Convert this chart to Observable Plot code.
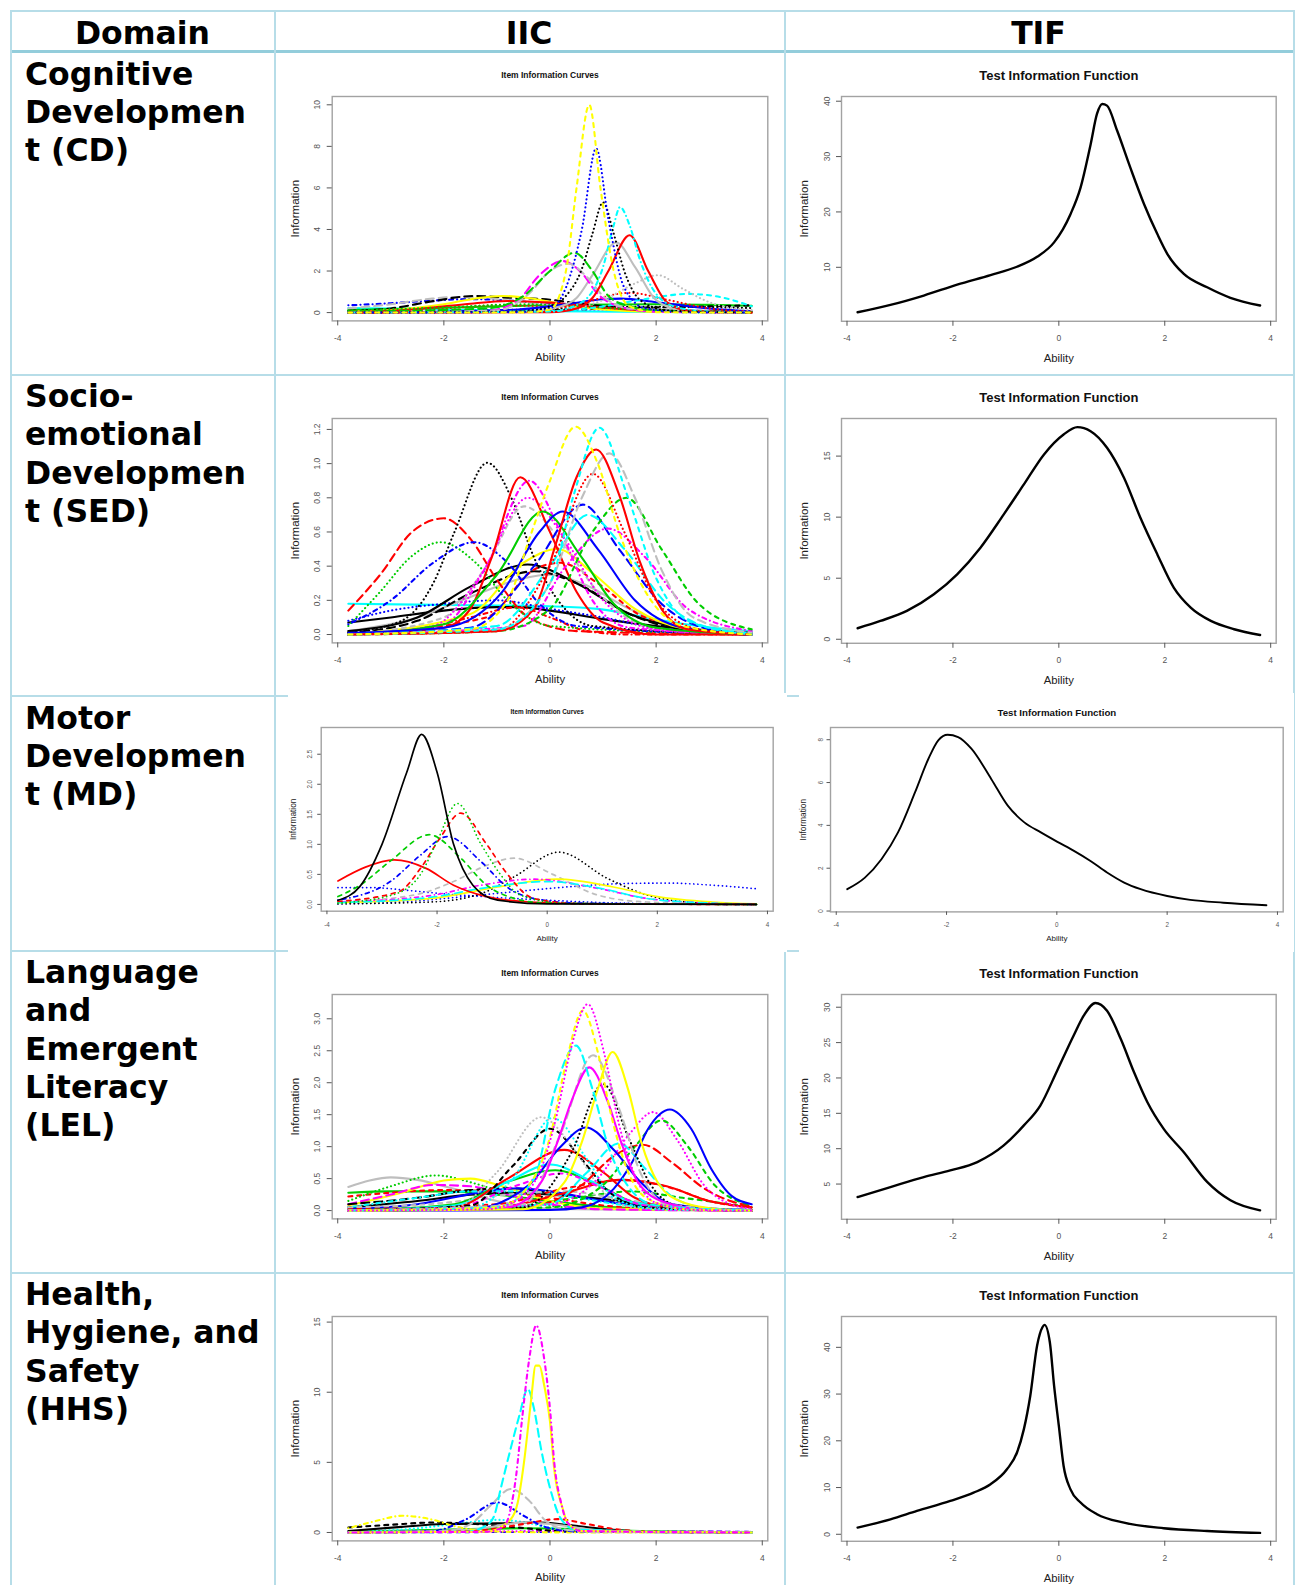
<!DOCTYPE html>
<html>
<head>
<meta charset="utf-8">
<script src="https://cdn.jsdelivr.net/npm/d3@7"></script>
<script src="https://cdn.jsdelivr.net/npm/@observablehq/plot@0.6"></script>
<style>
html, body { margin: 0; padding: 0; width: 1300px; height: 1585px; overflow: hidden; background: #fff; }
#page { position: relative; width: 1300px; height: 1585px; overflow: hidden; }
.ln { position: absolute; background: #b7dde8; }
.hdr { position: absolute; font-family: "DejaVu Sans", Verdana, sans-serif; font-weight: bold; font-size: 31.5px; line-height: 38.3px; text-align: center; color: #000; white-space: nowrap; }
.dom { position: absolute; font-family: "DejaVu Sans", Verdana, sans-serif; font-weight: bold; font-size: 31.5px; line-height: 38.3px; color: #000; white-space: nowrap; }
.cover { position: absolute; background: #fff; }
</style>
</head>
<body>
<div id="page"></div>
<script>
// ---------------- DATA ----------------
const columnHeaders = ["Domain", "IIC", "TIF"];
const domainLabels = [
  ["Cognitive", "Developmen", "t (CD)"],
  ["Socio-", "emotional", "Developmen", "t (SED)"],
  ["Motor", "Developmen", "t (MD)"],
  ["Language", "and", "Emergent", "Literacy", "(LEL)"],
  ["Health,", "Hygiene, and", "Safety", "(HHS)"]
];
const abilityTicks = [-4, -2, 0, 2, 4];
const iicTitle = "Item Information Curves";
const tifTitle = "Test Information Function";

// Cognitive Development (CD) item information curves: [ability, information]
const cdIicCurves = [
  [[-3.8,0.02],[-2,0.05],[0,0.1],[1.5,0.12],[3.8,0.05]],
  [[-3.8,0.22],[-3,0.2],[-2,0.15],[-1,0.1],[0,0.07],[2,0.03],[3.8,0.01]],
  [[-3.8,0.12],[-2.5,0.2],[-1,0.3],[0.5,0.38],[2,0.4],[3,0.37],[3.8,0.33]],
  [[-3.8,0.02],[-2,0.06],[0,0.18],[1.5,0.28],[2.8,0.27],[3.8,0.22]],
  [[-3.8,0],[-1,0.04],[0.5,0.15],[2,0.25],[3,0.3],[3.8,0.35]],
  [[-3.8,0.05],[-2,0.2],[-1,0.35],[0,0.3],[1,0.2],[2.5,0.08],[3.8,0.02]],
  [[-3.8,0.35],[-3,0.45],[-2.2,0.58],[-1.5,0.65],[-0.8,0.58],[0,0.42],[1,0.25],[2,0.12],[3.8,0.03]],
  [[-3.8,0.2],[-3,0.4],[-2.3,0.65],[-1.8,0.75],[-1.2,0.7],[-0.5,0.5],[0.3,0.3],[1.5,0.12],[3.8,0.02]],
  [[-3.8,0.08],[-3,0.2],[-2.2,0.55],[-1.43,0.8],[-0.8,0.72],[0,0.62],[0.5,0.45],[1.5,0.2],[3.8,0.04]],
  [[-3.8,0.04],[-3,0.12],[-2,0.4],[-1.4,0.68],[-0.9,0.8],[-0.4,0.7],[0.2,0.42],[1,0.15],[2,0.04],[3.8,0]],
  [[-3.8,0.03],[-2.6,0.15],[-1.6,0.4],[-0.8,0.56],[0,0.48],[0.8,0.28],[2,0.08],[3.8,0.01]],
  [[-3.8,0.1],[-2,0.25],[-0.5,0.4],[0.5,0.3],[2,0.1],[3.8,0.02]],
  [[-3.8,0.01],[-2,0.04],[-0.6,0.15],[0.3,0.4],[1.0,0.64],[1.34,0.67],[2,0.5],[3,0.2],[3.8,0.06]],
  [[-3.8,0],[-0.5,0.05],[0.5,0.4],[1.5,0.95],[2.2,0.62],[3,0.2],[3.8,0.05]],
  [[-3.8,0],[0,0.05],[1,0.3],[1.8,0.65],[2.6,0.9],[3.1,0.8],[3.8,0.3]],
  [[-3.8,0],[0,0.05],[1,0.6],[1.6,1.4],[2.03,1.8],[2.5,1.15],[3,0.5],[3.8,0.12]],
  [[-3.8,0],[-0.5,0.03],[0.2,0.3],[0.5,0.7],[0.8,1.8],[1.25,3.37],[1.6,2.2],[2.0,0.6],[2.5,0.1],[3.8,0]],
  [[-3.8,0.01],[-1.2,0.08],[-0.6,0.6],[-0.2,1.8],[0.24,2.48],[0.6,1.9],[0.9,0.9],[1.3,0.3],[2,0.04],[3.8,0]],
  [[-3.8,0],[-1,0.1],[-0.4,0.9],[0,2.0],[0.35,2.35],[0.7,1.7],[1.0,0.8],[1.5,0.2],[3.8,0]],
  [[-3.8,0.05],[-1.2,0.2],[-0.5,0.8],[0,2.0],[0.46,2.88],[0.8,2.0],[1.1,0.8],[1.5,0.3],[2,0.1],[3.8,0.02]],
  [[-3.8,0],[0,0.02],[0.5,0.2],[0.8,0.7],[1.1,2.0],[1.5,3.72],[1.85,2.0],[2.2,0.5],[2.6,0.1],[3.8,0]],
  [[-3.8,0],[0,0.05],[0.6,0.5],[1.0,2.2],[1.2,4.2],[1.32,5.08],[1.5,4.2],[1.7,2.5],[2.0,0.9],[2.4,0.25],[3,0.05],[3.8,0]],
  [[-3.8,0],[-0.5,0.05],[0,0.3],[0.3,0.8],[0.6,2.1],[0.8,3.8],[1.0,5.3],[1.2,3.8],[1.4,2.0],[1.7,0.6],[2.2,0.1],[3.8,0]],
  [[-3.8,0],[-0.5,0.02],[0,0.2],[0.3,1.2],[0.6,4.0],[0.87,7.9],[1.1,4.5],[1.4,1.2],[1.8,0.2],[2.5,0.02],[3.8,0]],
  [[-3.8,0],[-0.5,0.01],[0,0.15],[0.3,2.0],[0.5,6.0],[0.74,10],[0.95,6.0],[1.2,2.0],[1.5,0.3],[2,0.02],[3.8,0]]
];
const cdIicColors = ["magenta","cyan","green","black","black","red","blue","gray","black","yellow","red","green","blue","red","cyan","gray","gray","magenta","gray","green","red","cyan","black","blue","yellow"];
const cdIicTypes  = ["o","s","s","o","d","o","dd","l","l","s","s","o","s","o","d","o","s","l","l","l","s","dd","o","o","d"];
const cdIicYDomain = [-0.4, 10.4];
const cdIicYTicks = [0, 2, 4, 6, 8, 10];

const cdTif = [[-3.8,1.88],[-3.18,3.2],[-2.55,4.89],[-1.92,6.87],[-1.29,8.6],[-0.79,10.1],[-0.41,11.9],[-0.09,14.5],[0.22,19.6],[0.41,24.4],[0.6,32.2],[0.72,37.7],[0.82,39.5],[0.91,39.2],[1.1,34.7],[1.35,28.0],[1.61,21.4],[1.86,16.0],[2.05,12.4],[2.36,8.8],[2.8,6.4],[3.24,4.5],[3.8,3.1]];
const cdTifYDomain = [0.25, 40.85];
const cdTifYTicks = [10, 20, 30, 40];

// Socio-emotional Development (SED)
const sedIicCurves = [
  [[-3.8,0.18],[-2.5,0.175],[-1,0.17],[0,0.165],[0.9,0.15],[1.8,0.1],[2.8,0.05],[3.8,0.02]],
  [[-3.8,0.07],[-3,0.1],[-2,0.14],[-1,0.16],[-0.6,0.16],[0,0.14],[1,0.09],[2,0.05],[3,0.02],[3.8,0.01]],
  [[-3.8,0.08],[-3,0.14],[-2,0.18],[-1,0.2],[0,0.15],[1,0.1],[2,0.04],[3.8,0.01]],
  [[-3.8,0],[-2.5,0.03],[-1.5,0.1],[-0.6,0.16],[0,0.1],[0.7,0.02],[1.5,0],[3.8,0]],
  [[-3.8,0.02],[-2.5,0.1],[-1.5,0.22],[-0.5,0.33],[0,0.35],[0.6,0.3],[1.5,0.15],[2.5,0.04],[3.8,0.01]],
  [[-3.8,0.01],[-2.5,0.08],[-1.5,0.24],[-0.3,0.37],[0.5,0.3],[1.5,0.12],[2.5,0.03],[3.8,0.01]],
  [[-3.8,0.02],[-2.5,0.1],[-1.5,0.28],[-0.42,0.41],[0.5,0.3],[1.5,0.12],[2.5,0.04],[3.8,0.01]],
  [[-3.8,0],[-1.2,0.1],[-0.3,0.38],[0.2,0.42],[0.9,0.3],[1.8,0.1],[3.8,0]],
  [[-3.8,0],[-1.5,0.12],[-0.5,0.42],[0.14,0.5],[0.8,0.36],[1.6,0.15],[2.6,0.03],[3.8,0]],
  [[-3.8,0.14],[-3.2,0.35],[-2.6,0.6],[-2.0,0.68],[-1.5,0.56],[-1,0.32],[-0.4,0.1],[0.5,0.02],[3.8,0]],
  [[-3.8,0.05],[-3.2,0.25],[-2.6,0.46],[-2.06,0.54],[-1.4,0.42],[-0.8,0.2],[0,0.05],[3.8,0]],
  [[-3.8,0.06],[-3,0.2],[-2.2,0.42],[-1.43,0.54],[-0.8,0.42],[-0.2,0.18],[0.5,0.05],[3.8,0]],
  [[-3.8,0.01],[-2.8,0.08],[-2.2,0.3],[-1.8,0.6],[-1.18,1.005],[-0.7,0.78],[-0.3,0.45],[0.2,0.18],[0.8,0.05],[3.8,0]],
  [[-3.8,0],[-2,0.1],[-1.2,0.4],[-0.49,0.75],[0.2,0.55],[0.9,0.25],[2,0.03],[3.8,0]],
  [[-3.8,0],[-2.2,0.05],[-1.3,0.35],[-0.42,0.8],[0.3,0.55],[1,0.2],[2,0.03],[3.8,0]],
  [[-3.8,0],[-2,0.06],[-1.2,0.4],[-0.39,0.9],[0.2,0.6],[0.8,0.2],[1.5,0.04],[3.8,0]],
  [[-3.8,0],[-2,0.04],[-1.5,0.15],[-1.1,0.45],[-0.56,0.92],[0,0.6],[0.5,0.25],[1.0,0.07],[2,0],[3.8,0]],
  [[-3.8,0],[-2,0.06],[-1,0.35],[-0.14,0.72],[0.6,0.45],[1.2,0.18],[2,0.04],[3.8,0]],
  [[-3.8,0.01],[-2,0.04],[-0.9,0.25],[-0.2,0.6],[0.24,0.72],[0.9,0.5],[1.6,0.2],[2.5,0.04],[3.8,0]],
  [[-3.8,0],[-1.5,0.04],[-0.3,0.4],[0.62,0.76],[1.3,0.5],[2.1,0.18],[3,0.03],[3.8,0]],
  [[-3.8,0],[-1,0.05],[0,0.4],[0.71,0.7],[1.4,0.5],[2.2,0.18],[3,0.04],[3.8,0.01]],
  [[-3.8,0],[-0.5,0.05],[0.3,0.4],[1.09,0.62],[1.8,0.45],[2.6,0.15],[3.8,0.02]],
  [[-3.8,0],[-1,0.02],[0,0.15],[0.8,0.6],[1.44,0.8],[2.1,0.5],[2.8,0.18],[3.8,0.03]],
  [[-3.8,0],[-1,0.02],[0,0.4],[0.81,0.94],[1.4,0.6],[2,0.2],[2.8,0.03],[3.8,0]],
  [[-3.8,0],[-1,0.03],[0,0.3],[0.6,0.8],[1.12,1.06],[1.6,0.8],[2.1,0.38],[2.7,0.1],[3.8,0.01]],
  [[-3.8,0],[-1,0.02],[-0.3,0.15],[0.1,0.52],[0.5,0.92],[0.87,1.083],[1.3,0.82],[1.7,0.42],[2.1,0.15],[2.6,0.03],[3.8,0]],
  [[-3.8,0],[-1,0.03],[0,0.3],[0.45,0.82],[0.93,1.21],[1.45,0.82],[2.0,0.33],[2.6,0.08],[3.8,0]],
  [[-3.8,0],[-1.5,0.03],[-0.8,0.2],[-0.4,0.55],[0,0.9],[0.48,1.216],[0.9,1.0],[1.3,0.6],[1.8,0.25],[2.5,0.05],[3.8,0]]
];
const sedIicColors = ["cyan","black","blue","red","gray","black","black","red","yellow","red","green","blue","black","gray","magenta","magenta","red","green","blue","blue","cyan","magenta","green","red","gray","red","cyan","yellow"];
const sedIicTypes  = ["s","s","o","dd","s","l","s","d","s","l","o","dd","o","d","o","dd","s","s","s","l","l","dd","d","o","l","s","d","d"];
const sedIicYDomain = [-0.049, 1.264];
const sedIicYTicks = [0, 0.2, 0.4, 0.6, 0.8, 1.0, 1.2];

const sedTif = [[-3.8,0.9],[-3.37,1.5],[-2.87,2.32],[-2.36,3.68],[-1.92,5.32],[-1.48,7.5],[-1.04,10.23],[-0.66,12.68],[-0.28,15.14],[0.09,16.77],[0.35,17.37],[0.6,17.04],[0.91,15.68],[1.23,13.23],[1.54,9.95],[1.86,6.95],[2.17,4.23],[2.49,2.59],[2.87,1.5],[3.31,0.82],[3.8,0.35]];
const sedTifYDomain = [-0.33, 18.08];
const sedTifYTicks = [0, 5, 10, 15];

// Motor Development (MD)
const mdIicCurves = [
  [[-3.8,0.28],[-3.2,0.28],[-2.5,0.23],[-1.8,0.17],[-1,0.12],[0,0.07],[1,0.03],[2,0.01],[3.8,0]],
  [[-3.8,0.01],[-2.5,0.05],[-1.5,0.13],[-0.5,0.22],[0.5,0.3],[1.5,0.35],[2.2,0.355],[3,0.32],[3.8,0.26]],
  [[-3.8,0.04],[-2.4,0.16],[-1.7,0.38],[-1.1,0.65],[-0.6,0.77],[0.1,0.5],[0.9,0.16],[1.8,0.04],[3.8,0]],
  [[-3.8,0.01],[-2.1,0.04],[-1.2,0.18],[-0.6,0.46],[0.21,0.87],[1.1,0.43],[1.8,0.16],[2.7,0.03],[3.8,0]],
  [[-3.8,0.03],[-2.1,0.1],[-0.9,0.29],[0.18,0.42],[1.2,0.29],[2,0.13],[3,0.04],[3.8,0.01]],
  [[-3.8,0.04],[-2.1,0.15],[-1.2,0.32],[-0.24,0.42],[0.9,0.27],[1.8,0.1],[3,0.02],[3.8,0]],
  [[-3.8,0.03],[-2.1,0.12],[-1.1,0.28],[0,0.38],[0.9,0.28],[1.8,0.1],[3,0.02],[3.8,0]],
  [[-3.8,0.39],[-3.3,0.62],[-2.78,0.74],[-2.2,0.6],[-1.7,0.32],[-1.1,0.13],[-0.3,0.04],[1,0.01],[3.8,0]],
  [[-3.8,0.13],[-3.4,0.32],[-2.85,0.72],[-2.14,1.16],[-1.57,0.77],[-1.1,0.32],[-0.6,0.1],[0,0.02],[3.8,0]],
  [[-3.8,0.07],[-2.85,0.38],[-2.3,0.82],[-1.81,1.13],[-1.2,0.71],[-0.7,0.27],[-0.25,0.1],[0.6,0.02],[3.8,0]],
  [[-3.8,0.05],[-2.7,0.21],[-2.3,0.6],[-1.95,1.1],[-1.57,1.52],[-1.1,1.0],[-0.72,0.5],[-0.25,0.1],[0.6,0.01],[3.8,0]],
  [[-3.8,0.02],[-2.8,0.16],[-2.3,0.5],[-2.0,1.05],[-1.63,1.68],[-1.2,1.0],[-0.85,0.5],[-0.5,0.16],[0.3,0.02],[3.8,0]],
  [[-3.8,0.07],[-3.4,0.3],[-3.0,1.0],[-2.55,2.2],[-2.28,2.83],[-2.0,2.2],[-1.7,1.0],[-1.35,0.32],[-0.9,0.07],[0,0.01],[3.8,0]]
];
const mdIicColors = ["blue","blue","gray","black","yellow","magenta","cyan","red","green","blue","red","green","black"];
const mdIicTypes  = ["o","o","d","o","s","dd","l","s","d","dd","d","o","s"];
const mdIicYDomain = [-0.113, 2.945];
const mdIicYTicks = [0, 0.5, 1.0, 1.5, 2.0, 2.5];

const mdTif = [[-3.8,1.02],[-3.48,1.56],[-3.18,2.42],[-2.88,3.67],[-2.57,5.55],[-2.33,7.1],[-2.15,7.97],[-1.98,8.23],[-1.79,8.12],[-1.55,7.58],[-1.19,6.17],[-0.89,4.92],[-0.59,4.14],[-0.29,3.67],[0.01,3.23],[0.31,2.81],[0.61,2.34],[0.91,1.8],[1.22,1.33],[1.52,1.02],[2.0,0.7],[2.42,0.52],[3.02,0.39],[3.8,0.27]];
const mdTifYDomain = [-0.04, 8.57];
const mdTifYTicks = [0, 2, 4, 6, 8];

// Language and Emergent Literacy (LEL)
const lelIicCurves = [
  [[-3.8,0.37],[-3.4,0.47],[-3.0,0.52],[-2.5,0.48],[-1.9,0.36],[-1,0.15],[0,0.03],[3.8,0]],
  [[-3.8,0.28],[-3,0.3],[-2,0.3],[-1,0.25],[0,0.15],[1,0.06],[3.8,0]],
  [[-3.8,0.22],[-3,0.28],[-2,0.32],[-1,0.3],[0,0.2],[1,0.08],[2,0.02],[3.8,0]],
  [[-3.8,0.15],[-3,0.38],[-2.15,0.55],[-1.4,0.42],[-0.6,0.2],[0.3,0.05],[3.8,0]],
  [[-3.8,0.08],[-2.8,0.28],[-2,0.47],[-1.5,0.5],[-0.9,0.38],[0,0.15],[1,0.03],[3.8,0]],
  [[-3.8,0.1],[-3,0.25],[-2.2,0.4],[-1.5,0.38],[-0.8,0.25],[0,0.1],[1,0.02],[3.8,0]],
  [[-3.8,0.05],[-2.5,0.15],[-1.5,0.25],[-0.8,0.28],[0,0.25],[1,0.18],[2,0.08],[3,0.02],[3.8,0]],
  [[-3.8,0.1],[-2.5,0.2],[-1.5,0.32],[-0.8,0.35],[0,0.28],[1,0.15],[2,0.05],[3.8,0.01]],
  [[-3.8,0.02],[-2.5,0.1],[-1.2,0.3],[-0.6,0.35],[0,0.3],[1,0.15],[2,0.05],[3.8,0.01]],
  [[-3.8,0.05],[-2.5,0.2],[-1.5,0.3],[-0.5,0.3],[0.5,0.2],[1.5,0.08],[3.8,0.01]],
  [[-3.8,0],[-2,0.02],[-0.5,0.08],[0.5,0.2],[1.5,0.3],[2.5,0.2],[3.8,0.05]],
  [[-3.8,0.05],[-2,0.12],[-0.8,0.25],[0.3,0.3],[1.2,0.2],[2.2,0.08],[3.8,0.01]],
  [[-3.8,0.02],[-1,0.1],[0.3,0.35],[1.4,0.48],[2.3,0.35],[3,0.15],[3.8,0.05]],
  [[-3.8,0],[-1,0.05],[0.3,0.28],[1.3,0.48],[2.2,0.38],[3,0.15],[3.8,0.05]],
  [[-3.8,0],[-1.8,0.1],[-0.8,0.45],[0.1,0.63],[0.9,0.4],[1.7,0.1],[3.8,0]],
  [[-3.8,0],[-1.8,0.08],[-0.8,0.45],[0,0.72],[0.8,0.45],[1.6,0.12],[3.8,0]],
  [[-3.8,0],[-1.8,0.05],[-0.6,0.4],[0.2,0.58],[1,0.35],[1.8,0.08],[3.8,0]],
  [[-3.8,0],[-1.8,0.05],[-0.8,0.5],[0.27,0.95],[1,0.6],[1.6,0.2],[2.4,0.03],[3.8,0]],
  [[-3.8,0],[-1.5,0.08],[-0.7,0.7],[0,1.28],[0.6,0.8],[1.1,0.3],[1.8,0.05],[3.8,0]],
  [[-3.8,0],[-1.8,0.05],[-1,0.6],[-0.17,1.46],[0.5,0.9],[1,0.3],[1.6,0.05],[3.8,0]],
  [[-3.8,0],[-1.5,0.05],[-0.7,0.5],[0.05,1.45],[0.7,0.8],[1.2,0.2],[2,0.02],[3.8,0]],
  [[-3.8,0],[-0.5,0.05],[0.6,0.4],[1.2,0.85],[1.75,1.03],[2.3,0.75],[2.9,0.35],[3.4,0.15],[3.8,0.07]],
  [[-3.8,0],[0,0.1],[0.7,0.6],[1.3,1.05],[1.8,0.65],[2.3,0.22],[3,0.03],[3.8,0]],
  [[-3.8,0],[0,0.1],[0.9,0.5],[1.5,1.2],[1.94,1.54],[2.4,1.1],[2.9,0.4],[3.4,0.1],[3.8,0.03]],
  [[-3.8,0],[0,0.05],[1.0,0.4],[1.6,1.0],[2.1,1.41],[2.6,1.0],[3.1,0.4],[3.8,0.08]],
  [[-3.8,0],[0,0.01],[0.6,0.05],[1.2,0.34],[1.55,0.76],[1.85,1.28],[2.26,1.58],[2.66,1.28],[3.04,0.65],[3.42,0.23],[3.8,0.1]],
  [[-3.8,0],[-1.5,0.02],[-0.4,0.4],[0.2,1.0],[0.68,1.3],[1.2,0.95],[1.7,0.45],[2.3,0.1],[3.8,0]],
  [[-3.8,0],[-0.5,0.05],[0.4,0.9],[1.0,1.98],[1.5,1.1],[1.9,0.4],[2.4,0.08],[3.8,0]],
  [[-3.8,0],[-0.5,0.1],[0.2,1.2],[0.81,2.43],[1.3,1.6],[1.7,0.6],[2.2,0.1],[3.8,0]],
  [[-3.8,0],[-0.8,0.05],[-0.17,0.44],[0.14,1.07],[0.4,1.7],[0.74,2.24],[1.09,1.7],[1.34,1.07],[1.66,0.44],[2.16,0.13],[3,0.01],[3.8,0]],
  [[-3.8,0],[-0.5,0.02],[0.27,0.44],[0.6,1.07],[0.9,1.9],[1.18,2.48],[1.47,1.9],[1.72,1.07],[2.03,0.44],[2.5,0.13],[3.2,0.02],[3.8,0]],
  [[-3.8,0],[-1,0.05],[-0.3,0.5],[0.1,1.9],[0.49,2.58],[0.8,1.9],[1.1,1.0],[1.5,0.35],[2,0.08],[3.8,0]],
  [[-3.8,0],[-1,0.05],[-0.36,0.44],[0,1.15],[0.3,2.3],[0.62,3.13],[0.9,2.48],[1.15,1.5],[1.45,0.65],[1.85,0.18],[2.6,0.02],[3.8,0]],
  [[-3.8,0],[-1.2,0.02],[-0.7,0.13],[-0.17,0.65],[0.1,1.4],[0.4,2.55],[0.71,3.23],[1.03,2.43],[1.3,1.35],[1.6,0.55],[2.0,0.12],[2.8,0.01],[3.8,0]]
];
const lelIicColors = ["gray","green","red","green","yellow","magenta","black","black","blue","cyan","green","gray","red","red","green","cyan","magenta","red","black","gray","cyan","red","cyan","magenta","green","blue","blue","black","gray","magenta","yellow","cyan","yellow","magenta"];
const lelIicTypes  = ["s","s","d","o","s","l","s","l","s","dd","d","d","d","s","s","s","d","s","d","o","o","l","l","o","d","s","s","o","l","s","s","l","d","o"];
const lelIicYDomain = [-0.13, 3.38];
const lelIicYTicks = [0, 0.5, 1.0, 1.5, 2.0, 2.5, 3.0];

const lelTif = [[-3.8,3.16],[-3.18,4.58],[-2.55,5.99],[-2.05,6.93],[-1.54,8.11],[-1.04,10.46],[-0.66,13.29],[-0.35,16.1],[-0.03,21.06],[0.28,26.0],[0.47,28.8],[0.69,30.6],[0.91,29.5],[1.17,25.5],[1.42,20.8],[1.67,16.6],[1.98,12.8],[2.36,9.5],[2.8,5.3],[3.24,2.7],[3.8,1.28]];
const lelTifYDomain = [0.02, 31.8];
const lelTifYTicks = [5, 10, 15, 20, 25, 30];

// Health, Hygiene, and Safety (HHS)
const hhsIicCurves = [
  [[-3.8,0],[-2,0.02],[0,0.05],[1,0.08],[2,0.07],[3,0.06],[3.8,0.05]],
  [[-3.8,0.02],[-2,0.05],[0,0.1],[1.5,0.1],[3.8,0.04]],
  [[-3.8,0.05],[-2.5,0.15],[-1.5,0.25],[-0.5,0.3],[0.5,0.25],[1.5,0.12],[3.8,0.02]],
  [[-3.8,0.05],[-2.5,0.3],[-1.6,0.7],[-1,0.9],[-0.6,0.8],[0,0.35],[1,0.05],[3.8,0]],
  [[-3.8,0.1],[-2.8,0.4],[-2,0.6],[-1,0.65],[-0.2,0.7],[0.3,0.55],[1,0.25],[2,0.05],[3.8,0]],
  [[-3.8,0.36],[-3,0.55],[-2.2,0.71],[-1.4,0.6],[-0.6,0.35],[0.2,0.1],[3.8,0]],
  [[-3.8,0],[-1.5,0.2],[-0.5,0.7],[0,0.6],[0.8,0.2],[2,0.02],[3.8,0]],
  [[-3.8,0.3],[-3.3,0.8],[-2.78,1.19],[-2.2,0.9],[-1.8,0.45],[-1.2,0.1],[0,0.01],[3.8,0]],
  [[-3.8,0],[-1.5,0.1],[-0.5,0.6],[0.14,0.95],[0.7,0.6],[1.2,0.25],[2,0.05],[3.8,0]],
  [[-3.8,0],[-2.2,0.1],[-1.6,0.9],[-0.99,2.14],[-0.5,1.2],[-0.1,0.4],[0.5,0.08],[3.8,0]],
  [[-3.8,0],[-2,0.1],[-1.5,0.6],[-1.1,2.0],[-0.74,3.1],[-0.4,2.3],[-0.1,0.9],[0.3,0.2],[1,0.02],[3.8,0]],
  [[-3.8,0],[-1.6,0.05],[-1.2,0.5],[-1.05,1.2],[-0.93,3.1],[-0.74,6.0],[-0.58,8.3],[-0.42,10.24],[-0.3,8.8],[-0.17,6.0],[0.02,2.9],[0.21,0.95],[0.5,0.2],[3.8,0]],
  [[-3.8,0],[-1.2,0.05],[-0.74,0.95],[-0.61,2.1],[-0.49,5.0],[-0.36,9.3],[-0.27,11.9],[-0.2,11.9],[-0.11,10.5],[0,7.9],[0.08,4.5],[0.24,1.7],[0.33,0.7],[0.6,0.1],[3.8,0]],
  [[-3.8,0],[-1.2,0.05],[-0.86,0.48],[-0.74,1.7],[-0.64,4.0],[-0.52,8.3],[-0.39,12.4],[-0.26,14.76],[-0.11,12.4],[0,8.8],[0.08,5.0],[0.21,2.1],[0.33,0.7],[0.6,0.1],[3.8,0]]
];
const hhsIicColors = ["blue","magenta","green","cyan","black","black","gray","yellow","red","blue","gray","cyan","yellow","magenta"];
const hhsIicTypes  = ["d","o","s","o","s","d","s","dd","d","dd","l","l","s","dd"];
const hhsIicYDomain = [-0.6, 15.4];
const hhsIicYTicks = [0, 5, 10, 15];

const hhsTif = [[-3.8,1.43],[-3.18,3.2],[-2.68,5.0],[-2.05,7.14],[-1.61,8.9],[-1.29,10.7],[-0.98,13.9],[-0.79,17.5],[-0.66,22.5],[-0.54,29.6],[-0.41,40.4],[-0.31,44.3],[-0.27,44.8],[-0.17,41.1],[-0.09,31.8],[0,23.2],[0.09,14.6],[0.22,9.6],[0.41,6.8],[0.72,4.3],[1.23,2.5],[1.98,1.3],[2.8,0.7],[3.8,0.3]];
const hhsTifYDomain = [-1.5, 46.6];
const hhsTifYTicks = [0, 10, 20, 30, 40];

// ---------------- STYLE / LAYOUT ----------------
const palette = {black:"#000000", red:"#FF0000", green:"#00CD00", blue:"#0000FF", cyan:"#00FFFF", magenta:"#FF00FF", yellow:"#FFFF00", gray:"#BEBEBE"};
const dashes = {s: null, d: "4,5", o: "0.1,4", dd: "0.1,4,4,4", l: "8,5", t: "2,4,6,4"};
const xDomain = [-4.104, 4.104];
const plotFont = "'Liberation Sans', Arial, Helvetica, sans-serif";

const page = document.getElementById("page");

// table rules
function rule(x, y, w, h, color) {
  const d = document.createElement("div");
  d.className = "ln";
  d.style.left = x + "px"; d.style.top = y + "px";
  d.style.width = w + "px"; d.style.height = h + "px";
  if (color) d.style.background = color;
  page.appendChild(d);
}
const colX = [10, 274, 784, 1293];
const rowY = [51, 373.5, 695, 949.5, 1271.5];
rule(10, 9.5, 1285, 2);
rule(10, 49.5, 1285, 3.2, "#93cddb");
for (let i = 1; i < rowY.length; i++) rule(10, rowY[i], 1285, 2);
colX.forEach(x => rule(x, 9.5, 2, 1585));

// header
const hdrSpans = [[11, 274], [274, 784], [784, 1293]];
columnHeaders.forEach((t, i) => {
  const d = document.createElement("div");
  d.className = "hdr";
  d.style.left = hdrSpans[i][0] + "px";
  d.style.width = (hdrSpans[i][1] - hdrSpans[i][0]) + "px";
  d.style.top = "14px";
  d.textContent = t;
  page.appendChild(d);
});

// domain cells
domainLabels.forEach((lines, i) => {
  const d = document.createElement("div");
  d.className = "dom";
  d.style.left = "25px";
  d.style.top = (rowY[i] + 3.5) + "px";
  d.innerHTML = lines.map(s => s.replace(/&/g, "&amp;")).join("<br>");
  page.appendChild(d);
});

// white covers where the motor row images hide the grid
[[288, 693, 499, 259], [799, 693, 495, 259]].forEach(([x, y, w, h]) => {
  const d = document.createElement("div");
  d.className = "cover";
  d.style.left = x + "px"; d.style.top = y + "px";
  d.style.width = w + "px"; d.style.height = h + "px";
  page.appendChild(d);
});

function makePanel(opt) {
  const g = opt.geom;
  const marks = [Plot.frame({stroke: "#a2a2a2", strokeWidth: 1.4})];
  opt.series.forEach((pts, i) => {
    marks.push(Plot.line(pts, {
      x: d => d[0], y: d => d[1],
      stroke: palette[opt.colors[i]],
      strokeWidth: opt.lw,
      strokeDasharray: dashes[opt.types[i]] || undefined,
      strokeLinecap: "round", strokeLinejoin: "round",
      curve: "monotone-x"
    }));
  });
  marks.push(
    Plot.axisX({ticks: abilityTicks, tickFormat: d => String(d), tickSize: g.tickSize, tickPadding: g.xPad, fontSize: g.tickFont, label: null, color: "#555"}),
    Plot.axisY({ticks: opt.yTicks, tickFormat: d => d.toFixed(opt.dec), tickSize: g.tickSize, tickPadding: g.yPad, tickRotate: -90, fontSize: g.tickFont, label: null, color: "#555"}),
    Plot.text([opt.title], {frameAnchor: "top", lineAnchor: "middle", textAnchor: "middle", dy: g.titleDy, fontWeight: "bold", fontSize: g.titleSize, fill: "#111", fontFamily: plotFont}),
    Plot.text(["Information"], {frameAnchor: "left", lineAnchor: "middle", textAnchor: "middle", dx: g.infoDx, rotate: -90, fontSize: g.infoSize, fill: "#222", fontFamily: plotFont}),
    Plot.text(["Ability"], {frameAnchor: "bottom", lineAnchor: "middle", textAnchor: "middle", dy: g.abDy, fontSize: g.abSize, fill: "#222", fontFamily: plotFont})
  );
  const svg = Plot.plot({
    width: g.w, height: g.h,
    marginLeft: g.ml, marginRight: g.mr, marginTop: g.mt, marginBottom: g.mb,
    x: {domain: xDomain},
    y: {domain: opt.yDomain},
    style: {background: "transparent", overflow: "visible", fontFamily: plotFont, color: "#555"},
    marks
  });
  svg.style.position = "absolute";
  svg.style.left = g.left + "px";
  svg.style.top = g.top + "px";
  page.appendChild(svg);
}

const normalText = {titleDy: -21, infoSize: 11.5, abDy: 36.7, abSize: 11.3, tickSize: 5, tickFont: 8.5, xPad: 8.7, yPad: 7};
function iicGeom(boxTop) { return Object.assign({left: 277, top: boxTop - 40, w: 500, h: 40 + 224.4 + 50, ml: 54.7, mr: 9.7, mt: 40, mb: 50, titleSize: 8.5, infoDx: -36.7}, normalText); }
function tifGeom(boxTop) { return Object.assign({left: 785, top: boxTop - 40, w: 500.7, h: 40 + 224.8 + 50, ml: 56, mr: 10, mt: 40, mb: 50, titleSize: 13, infoDx: -37}, normalText); }
const mdIicGeom = {left: 285, top: 697.3, w: 497.7, h: 30 + 183.7 + 40, ml: 35.7, mr: 10, mt: 30, mb: 40, titleDy: -15.6, titleSize: 6.4, infoDx: -27.4, infoSize: 8.3, abDy: 27.3, abSize: 8, tickSize: 3.5, tickFont: 6.3, xPad: 7.5, yPad: 5.6};
const mdTifGeom = {left: 790, top: 697.3, w: 502.7, h: 30 + 184.4 + 40, ml: 40, mr: 10, mt: 30, mb: 40, titleDy: -15, titleSize: 9.7, infoDx: -27.3, infoSize: 8.3, abDy: 26.8, abSize: 8, tickSize: 3.5, tickFont: 6.3, xPad: 7.5, yPad: 4.2};

const one = arr => [arr];
// CD
makePanel({series: cdIicCurves, colors: cdIicColors, types: cdIicTypes, yDomain: cdIicYDomain, yTicks: cdIicYTicks, dec: 0, title: iicTitle, lw: 2.1, geom: iicGeom(95.7)});
makePanel({series: one(cdTif), colors: ["black"], types: ["s"], yDomain: cdTifYDomain, yTicks: cdTifYTicks, dec: 0, title: tifTitle, lw: 2.4, geom: tifGeom(95.7)});
// SED
makePanel({series: sedIicCurves, colors: sedIicColors, types: sedIicTypes, yDomain: sedIicYDomain, yTicks: sedIicYTicks, dec: 1, title: iicTitle, lw: 2.1, geom: iicGeom(417.7)});
makePanel({series: one(sedTif), colors: ["black"], types: ["s"], yDomain: sedTifYDomain, yTicks: sedTifYTicks, dec: 0, title: tifTitle, lw: 2.4, geom: tifGeom(417.7)});
// MD
makePanel({series: mdIicCurves, colors: mdIicColors, types: mdIicTypes, yDomain: mdIicYDomain, yTicks: mdIicYTicks, dec: 1, title: iicTitle, lw: 1.7, geom: mdIicGeom});
makePanel({series: one(mdTif), colors: ["black"], types: ["s"], yDomain: mdTifYDomain, yTicks: mdTifYTicks, dec: 0, title: tifTitle, lw: 1.9, geom: mdTifGeom});
// LEL
makePanel({series: lelIicCurves, colors: lelIicColors, types: lelIicTypes, yDomain: lelIicYDomain, yTicks: lelIicYTicks, dec: 1, title: iicTitle, lw: 2.1, geom: iicGeom(994)});
makePanel({series: one(lelTif), colors: ["black"], types: ["s"], yDomain: lelTifYDomain, yTicks: lelTifYTicks, dec: 0, title: tifTitle, lw: 2.4, geom: tifGeom(994)});
// HHS
makePanel({series: hhsIicCurves, colors: hhsIicColors, types: hhsIicTypes, yDomain: hhsIicYDomain, yTicks: hhsIicYTicks, dec: 0, title: iicTitle, lw: 2.1, geom: iicGeom(1315.7)});
makePanel({series: one(hhsTif), colors: ["black"], types: ["s"], yDomain: hhsTifYDomain, yTicks: hhsTifYTicks, dec: 0, title: tifTitle, lw: 2.4, geom: tifGeom(1315.7)});
</script>
</body>
</html>
